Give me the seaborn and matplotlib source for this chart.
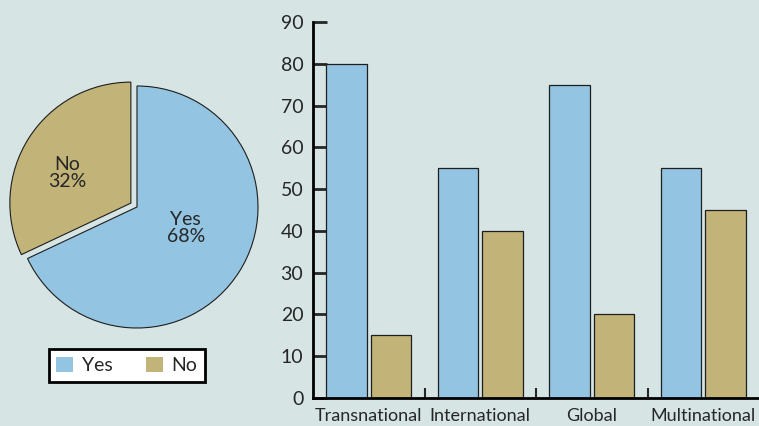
import numpy as np
import pandas as pd
import matplotlib
matplotlib.use("Agg")
import matplotlib.pyplot as plt
import seaborn as sns

# ---- data ----
pie_labels = ["Yes", "No"]
pie_values = [68, 32]

categories = ["Transnational", "International", "Global", "Multinational"]
yes_values = [80, 55, 75, 55]
no_values = [15, 40, 20, 45]
y_ticks = [0, 10, 20, 30, 40, 50, 60, 70, 80, 90]

BG = "#D6E4E4"
C_YES = "#93C4E1"
C_NO = "#C2B378"
EDGE = "#1E1E1E"

sns.set_style("ticks")
plt.rcParams["font.family"] = ["Lato", "DejaVu Sans"]
plt.rcParams["font.size"] = 13

fig = plt.figure(figsize=(7.59, 4.26), dpi=100, facecolor=BG)

# ---- pie ----
W, H = 759, 426
cx, cy, R = 137, 207, 121
L = 1.1
S = 2 * L * R
ax_pie = fig.add_axes([(cx - S / 2) / W, (H - cy - S / 2) / H, S / W, S / H])
ax_pie.set_facecolor("none")
wedges, _ = ax_pie.pie(
    pie_values, colors=[C_YES, C_NO], startangle=90, counterclock=False,
    explode=[0, 0.06], wedgeprops=dict(edgecolor=EDGE, linewidth=0.8),
)
ax_pie.set_xlim(-L, L)
ax_pie.set_ylim(-L, L)
ax_pie.set_aspect("equal")
ax_pie.axis("off")
label_dist = [0.44, 0.58]
label_shift = [9, 7]
for w, lab, val, d, sh in zip(wedges, pie_labels, pie_values, label_dist, label_shift):
    ang = np.deg2rad((w.theta1 + w.theta2) / 2 + sh)
    ccx, ccy = w.center
    ax_pie.text(ccx + d * np.cos(ang), ccy + d * np.sin(ang), f"{lab}\n{val}%",
                ha="center", va="center", fontsize=14, linespacing=1.05)

# legend
handles = [plt.Rectangle((0, 0), 1, 1, facecolor=c, edgecolor="none") for c in [C_YES, C_NO]]
leg = fig.legend(handles, pie_labels, loc="center",
                 bbox_to_anchor=(127 / W, 1 - 365.5 / H), ncol=2,
                 frameon=True, fancybox=False, framealpha=1, fontsize=14,
                 handlelength=0.85, handleheight=0.85, handletextpad=0.45,
                 columnspacing=1.75, borderpad=0.4, borderaxespad=0)
leg.get_frame().set_edgecolor("black")
leg.get_frame().set_linewidth(2)

# ---- bars ----
df = pd.DataFrame({
    "category": categories * 2,
    "answer": ["Yes"] * len(categories) + ["No"] * len(categories),
    "value": yes_values + no_values,
})
ax = fig.add_axes([313 / W, (H - 398) / H, (W - 313) / W, (398 - 22) / H])
ax.set_facecolor("none")
sns.barplot(data=df, x="category", y="value", hue="answer", order=categories,
            hue_order=["Yes", "No"], palette={"Yes": C_YES, "No": C_NO},
            saturation=1, width=0.8, gap=0.1, edgecolor=EDGE, linewidth=0.9,
            legend=False, ax=ax)
ax.set_xlim(-0.5, len(categories) - 0.5)
ax.set_ylim(0, 90)
ax.set_yticks(y_ticks)
ax.set_xlabel("")
ax.set_ylabel("")
for s in ["top", "right"]:
    ax.spines[s].set_visible(False)
for s in ["left", "bottom"]:
    ax.spines[s].set_linewidth(2)
    ax.spines[s].set_color("black")
ax.tick_params(axis="y", direction="in", length=10, width=2, pad=7, labelsize=14)
ax.tick_params(axis="x", which="major", length=0, pad=7, labelsize=13)
ax.set_xticks(np.arange(0.5, len(categories) - 1, 1), minor=True)
ax.tick_params(axis="x", which="minor", direction="in", length=7, width=1.5)

fig.savefig("out.png", dpi=100, facecolor=BG)
